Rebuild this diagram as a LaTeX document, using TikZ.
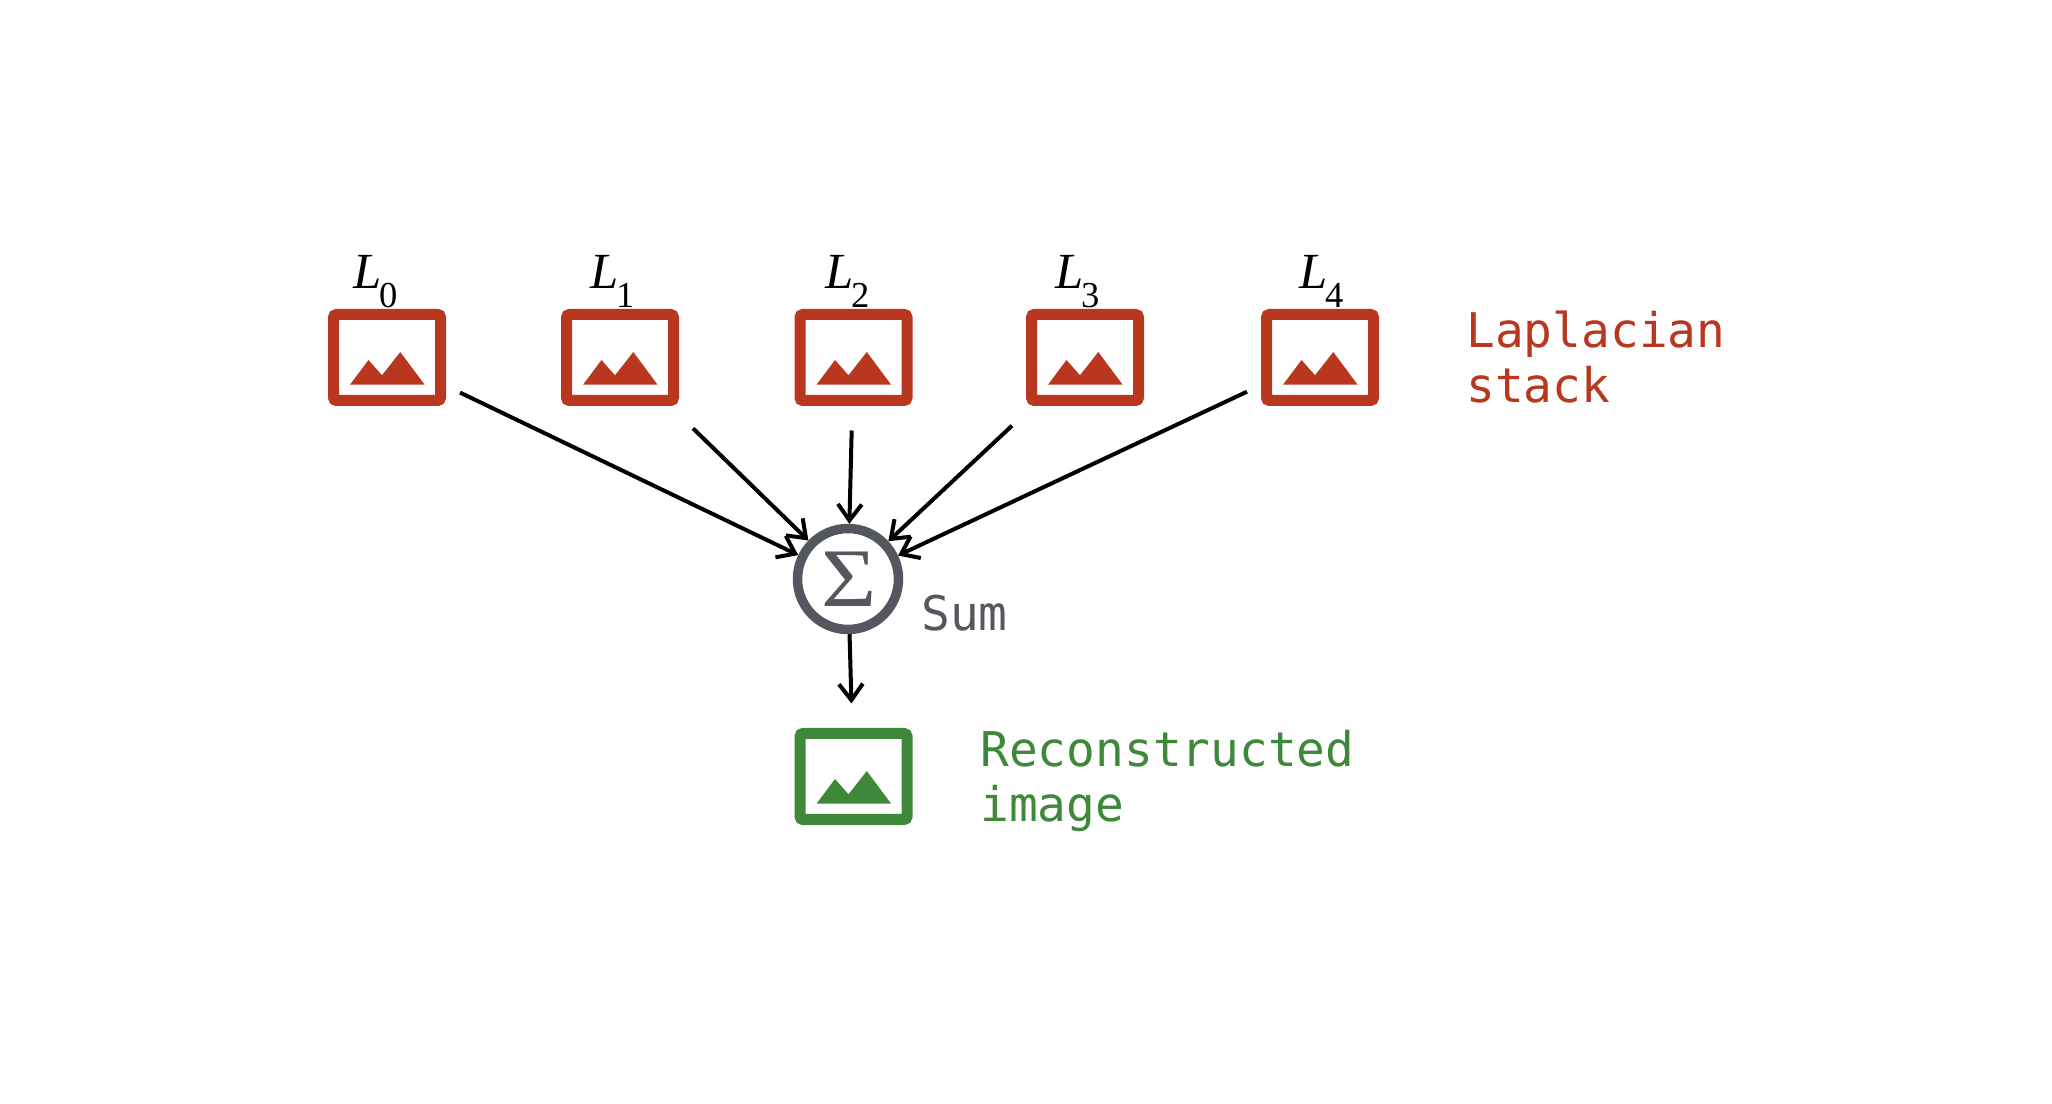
\documentclass[tikz,border=0pt]{standalone}
\usepackage{fontspec}
\setmainfont{Liberation Serif}
\setmonofont{DejaVu Sans Mono}
\usetikzlibrary{arrows.meta}
\definecolor{IMGred}{RGB}{184,55,30}
\definecolor{IMGgreen}{RGB}{62,136,58}
\definecolor{SUMgray}{RGB}{84,87,94}
\newcommand{\layername}[1]{{\itshape L}\kern-.05em\raisebox{-.8ex}{\fontsize{10.4}{11}\selectfont #1}}

\begin{document}
\begin{tikzpicture}[
	imgframe/.style={draw, rectangle, rounded corners=.03cm, line width=.11cm, minimum width=1.07cm, minimum height=.86cm, inner sep=0},
	imggap/.style={rectangle, minimum size=1.46cm, inner sep=0, outer sep=0},
	sumnode/.style={draw=SUMgray, circle, line width=.095cm, minimum size=1.01cm, inner sep=0, text=SUMgray, font=\fontsize{23.7}{24}\selectfont},
	layer/.style={anchor=base west, font=\fontsize{14.4}{17}\selectfont},
	caption/.style={anchor=base west, align=left, font=\ttfamily\fontsize{13.6}{15.9}\selectfont},
	conn/.style={-{Straight Barb[length=4.6pt, width=6.8pt]}, line width=.04cm},
	pics/mountains/.style={code={
		\fill (-.37,-.272) -- (-.185,-.025) -- (-.05,-.178) -- (.133,.055) -- (.376,-.272) -- cycle;
	}}
	]
	\useasboundingbox (0,0) rectangle (20.52,-11.04);

	\foreach \i/\x/\lx in {0/3.87/3.41, 1/6.20/5.78, 2/8.535/8.13, 3/10.85/10.43, 4/13.20/12.87} {
		\node (gap\i) at (\x,-3.575) [imggap] {};
		\node (img\i) at (gap\i) [imgframe, IMGred] {};
		\pic [IMGred] at (gap\i) {mountains};
		\node (lab\i) at (\lx,-2.89) [layer] {\layername{\i}};
	}

	\node (sum) at (8.48,-5.79) [sumnode] {\hspace{.03cm}\scalebox{1.14}[1]{Σ}};
	\node (gapout) at (8.535,-7.765) [imggap] {};
	\node (imgout) at (gapout) [imgframe, IMGgreen] {};
	\pic [IMGgreen] at (gapout) {mountains};

	\foreach \i in {0,...,4} {
		\draw [conn] (gap\i) -- (sum);
	}
	\draw [conn] (sum) -- (gapout);

	\node (stack) at (14.54,-4.03) [caption, IMGred] {Laplacian\\stack};
	\node (sumtext) at (9.09,-6.31) [caption, SUMgray] {Sum};
	\node (outtext) at (9.68,-8.22) [caption, IMGgreen] {Reconstructed\\image};
\end{tikzpicture}
\end{document}
